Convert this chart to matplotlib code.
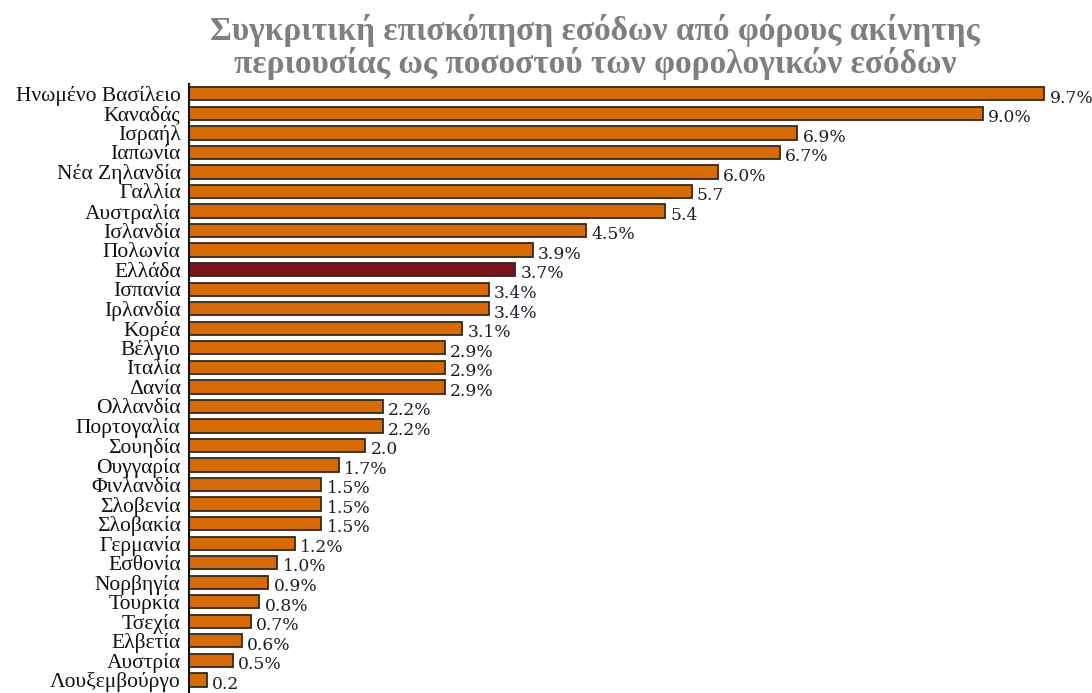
import matplotlib
matplotlib.use("Agg")
from matplotlib import pyplot as plt

countries = [
    "Ηνωμένο Βασίλειο", "Καναδάς", "Ισραήλ", "Ιαπωνία", "Νέα Ζηλανδία",
    "Γαλλία", "Αυστραλία", "Ισλανδία", "Πολωνία", "Ελλάδα", "Ισπανία",
    "Ιρλανδία", "Κορέα", "Βέλγιο", "Ιταλία", "Δανία", "Ολλανδία",
    "Πορτογαλία", "Σουηδία", "Ουγγαρία", "Φινλανδία", "Σλοβενία",
    "Σλοβακία", "Γερμανία", "Εσθονία", "Νορβηγία", "Τουρκία", "Τσεχία",
    "Ελβετία", "Αυστρία", "Λουξεμβούργο",
]
values = [
    9.7, 9.0, 6.9, 6.7, 6.0, 5.7, 5.4, 4.5, 3.9, 3.7, 3.4, 3.4, 3.1, 2.9,
    2.9, 2.9, 2.2, 2.2, 2.0, 1.7, 1.5, 1.5, 1.5, 1.2, 1.0, 0.9, 0.8, 0.7,
    0.6, 0.5, 0.2,
]
value_labels = [
    "9.7%", "9.0%", "6.9%", "6.7%", "6.0%", "5.7", "5.4", "4.5%", "3.9%",
    "3.7%", "3.4%", "3.4%", "3.1%", "2.9%", "2.9%", "2.9%", "2.2%", "2.2%",
    "2.0", "1.7%", "1.5%", "1.5%", "1.5%", "1.2%", "1.0%", "0.9%", "0.8%",
    "0.7%", "0.6%", "0.5%", "0.2",
]
highlight = "Ελλάδα"

orange = "#d96a00"
dark_red = "#7a1517"
colors = [dark_red if c == highlight else orange for c in countries]

fig = plt.figure(figsize=(10.92, 6.93), dpi=100)
ax = fig.add_axes([0.173, 0.0, 0.827, 0.879])

ypos = list(range(len(countries)))
ax.barh(ypos, values, height=0.68, color=colors, edgecolor="#2b2b2b",
        linewidth=1.3, zorder=2)

for y, v, lab in zip(ypos, values, value_labels):
    ax.text(v + 0.06, y + 0.22, lab, va="center", ha="left",
            fontsize=12.3, family="DejaVu Serif", color="#1c1c2a")

ax.set_yticks(ypos)
ax.set_yticklabels(countries, fontsize=15.5, family="Liberation Serif",
                   color="#111111")
ax.tick_params(axis="y", length=0, pad=6)
ax.set_xticks([])
ax.set_xlim(0, 10.24)
ax.set_ylim(30.67, -0.51)

for side in ["top", "right", "bottom"]:
    ax.spines[side].set_visible(False)
ax.spines["left"].set_linewidth(1.5)
ax.spines["left"].set_color("#111111")

fig.text(0.545, 0.932,
         "Συγκριτική επισκόπηση εσόδων από φόρους ακίνητης\n"
         "περιουσίας ως ποσοστού των φορολογικών εσόδων",
         ha="center", va="center", fontsize=24, fontweight="bold",
         family="Liberation Serif", color="#7f7f7f", linespacing=1.02)

fig.savefig("out.png", dpi=100)
